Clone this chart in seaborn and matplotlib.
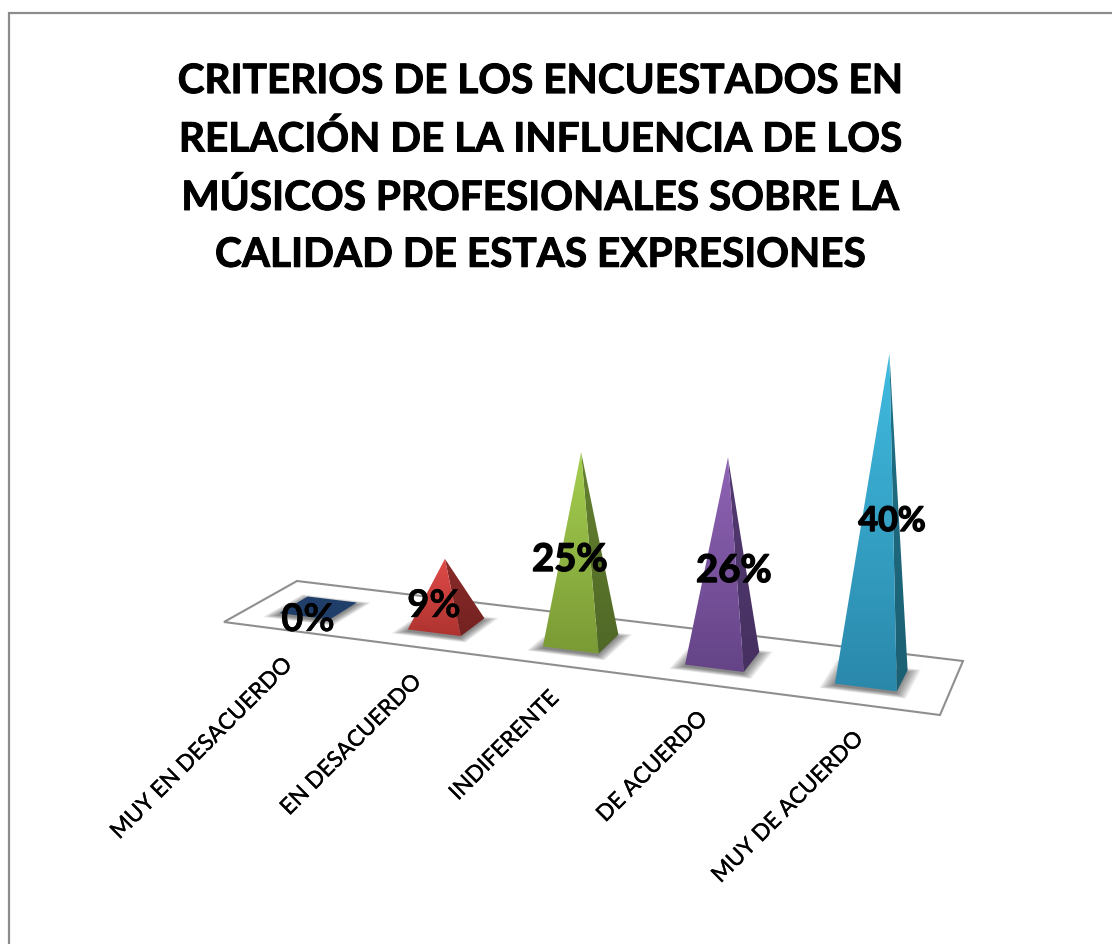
import numpy as np
import matplotlib
matplotlib.use("Agg")
import matplotlib.pyplot as plt
import matplotlib.patheffects as pe
from matplotlib.patches import Polygon
from matplotlib.colors import to_rgb
import seaborn as sns

# ---- data ----
categories = ["MUY EN DESACUERDO", "EN DESACUERDO", "INDIFERENTE", "DE ACUERDO", "MUY DE ACUERDO"]
values = [0, 9, 25, 26, 40]
title_lines = ["CRITERIOS DE LOS ENCUESTADOS EN",
               "RELACIÓN DE LA INFLUENCIA DE LOS",
               "MÚSICOS PROFESIONALES SOBRE LA",
               "CALIDAD DE ESTAS EXPRESIONES"]

# ---- style ----
palette = ["#1F3F6A", "#C8403D", "#8FB040", "#7A5AA0", "#35A5C8"]
front_top = ["#1F3F6A", "#E04B48", "#A5CF50", "#8F64B5", "#40BCE0"]
front_bot = ["#1F3F6A", "#AE3330", "#7A9A35", "#654487", "#2A88AB"]
side_top = ["#1F3F6A", "#8A2B29", "#64822F", "#533A72", "#1F7188"]
side_bot = ["#1F3F6A", "#732221", "#506827", "#463060", "#1C6073"]
label_xy = [(308, 621), (434, 607), (570, 561), (734, 572), (892, 522)]
label_size = [27.5, 27.5, 27.5, 27.5, 24.5]
tick_end = [(289, 662), (418, 679), (556, 695), (704, 716), (860, 736)]
FLOOR = [(224, 623), (297, 582), (963, 662), (940, 716)]  # front-left, back-left, back-right, front-right
VANISH = (580.0, 6000.0)
Z_SCALE = -0.00133
HALF_U, HALF_V = 0.20, 0.20
U_START, U_STEP = 0.46, 1.005

sns.set_theme(style="white")
plt.rcParams["font.family"] = ["Lato", "DejaVu Sans"]

fig = plt.figure(figsize=(11.12, 9.45), dpi=100, facecolor="white")

# seaborn holds the values; its bars give the category slot and height of each pyramid
ax_data = fig.add_axes([0, 0, 1, 1])
sns.barplot(x=categories, y=values, hue=categories, palette=palette, legend=False,
            width=2 * HALF_U, dodge=False, ax=ax_data)
bars = sorted(ax_data.patches, key=lambda p: p.get_x())
slots = [(b.get_x() + b.get_width() / 2, b.get_height()) for b in bars]
ax_data.set_visible(False)

ax = fig.add_axes([0, 0, 1, 1])
ax.set_xlim(0, 1112)
ax.set_ylim(945, 0)
ax.axis("off")


def homography(src, dst):
    A, b = [], []
    for (u, v), (x, y) in zip(src, dst):
        A.append([u, v, 1, 0, 0, 0, -u * x, -v * x]); b.append(x)
        A.append([0, 0, 0, u, v, 1, -u * y, -v * y]); b.append(y)
    return np.append(np.linalg.solve(np.array(A, float), np.array(b, float)), 1).reshape(3, 3)


H = homography([(0, 0), (0, 1), (5, 1), (5, 0)], FLOOR)
Z = Z_SCALE * np.array([VANISH[0], VANISH[1], 1.0])


def project(u, v, h=0.0):
    p = H @ np.array([u, v, 1.0]) + h * Z
    return p[0] / p[2], p[1] / p[2]


def gradient_face(pts, top, bottom, z):
    pts = np.array(pts)
    poly = Polygon(pts, closed=True, facecolor="none", edgecolor="none", transform=ax.transData)
    ax.add_patch(poly)
    grad = np.linspace(to_rgb(top), to_rgb(bottom), 128)[:, None, :]
    im = ax.imshow(grad, extent=[pts[:, 0].min(), pts[:, 0].max(), pts[:, 1].max(), pts[:, 1].min()],
                   aspect="auto", zorder=z, interpolation="bilinear")
    im.set_clip_path(poly)


# border
ax.plot([9, 9, 1112], [945, 14, 14], color="#8C8C8C", lw=1.6, solid_joinstyle="miter", zorder=1)

# floor
ax.add_patch(Polygon(FLOOR, closed=True, facecolor="white", edgecolor="#8F8F8F", lw=1.5, zorder=2))

for i, (slot, h) in enumerate(slots):
    u = U_START + U_STEP * slot
    v = 0.5
    fl = project(u - HALF_U, v - HALF_V)
    fr = project(u + HALF_U, v - HALF_V)
    br = project(u + HALF_U, v + HALF_V)
    bl = project(u - HALF_U, v + HALF_V)
    apex = project(u, v, h)
    # soft floor shadow
    base = np.array([fl, fr, br, bl])
    c = base.mean(axis=0)
    for s in np.linspace(1.4, 1.0, 10):
        ax.add_patch(Polygon(c + (base - c) * [s, 1 + (s - 1) * 0.9] + [-1, 2], closed=True,
                             facecolor="black", edgecolor="none", alpha=0.06, zorder=3))
    if h == 0:
        ax.add_patch(Polygon(base, closed=True, facecolor=palette[i], edgecolor="none", zorder=4))
    else:
        gradient_face([apex, fr, br], side_top[i], side_bot[i], 4)
        gradient_face([apex, fl, fr], front_top[i], front_bot[i], 5)

ax.set_xlim(0, 1112)
ax.set_ylim(945, 0)

# value labels
for (x, y), val, size in zip(label_xy, values, label_size):
    ax.text(x, y, f"{val}%", ha="center", va="center", fontsize=size, fontweight="bold",
            color="black", zorder=8,
            path_effects=[pe.withStroke(linewidth=0.3 if val < 10 else 1.0, foreground="black")])

# category labels
for (x, y), name in zip(tick_end, categories):
    ax.text(x, y, name, rotation=45, rotation_mode="anchor", ha="right", va="center",
            fontsize=16.3, color="black", zorder=8,
            path_effects=[pe.withStroke(linewidth=0.25, foreground="black")])

fig.suptitle("\n".join(title_lines), x=0.4855, y=0.9322, va="top", ha="center",
             fontsize=29.2, fontweight="bold", color="black", linespacing=1.66,
             path_effects=[pe.withStroke(linewidth=0.7, foreground="black")])

fig.savefig("out.png", dpi=100, facecolor="white")
